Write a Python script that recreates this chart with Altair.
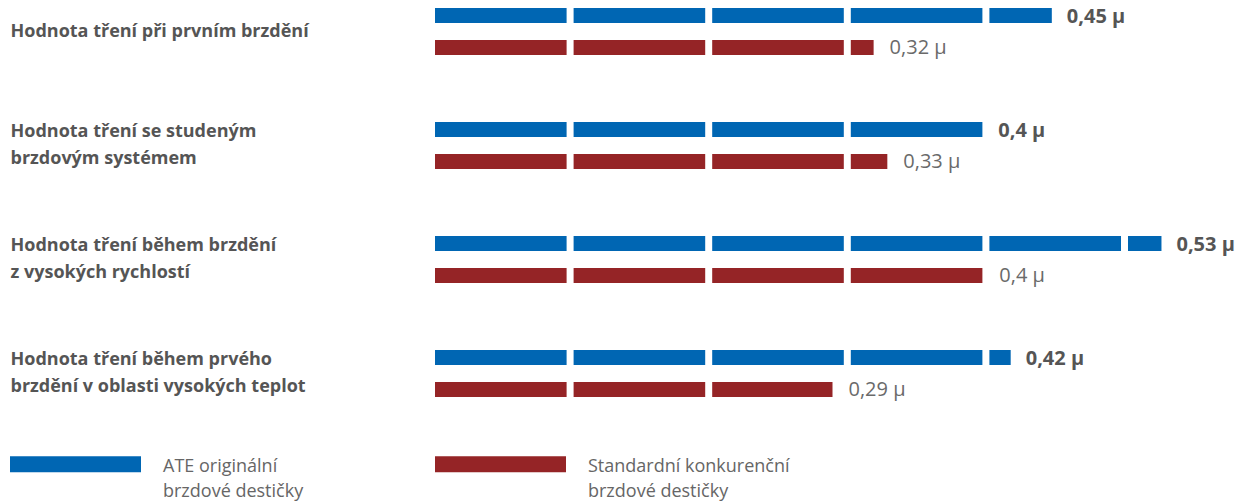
import altair as alt
import pandas as pd

categories = [
    "Hodnota tření při prvním brzdění",
    "Hodnota tření se studeným\nbrzdovým systémem",
    "Hodnota tření během brzdění\nz vysokých rychlostí",
    "Hodnota tření během prvého\nbrzdění v oblasti vysokých teplot",
]
series = ["ATE originální\nbrzdové destičky", "Standardní konkurenční\nbrzdové destičky"]
ate_values = [0.45, 0.40, 0.53, 0.42]
std_values = [0.32, 0.33, 0.40, 0.29]
colors = ["#0066b3", "#952426"]

rows = []
for c, a, s in zip(categories, ate_values, std_values):
    rows.append({"category": c, "series": series[0], "value": a, "start": 0.0, "primary": 1})
    rows.append({"category": c, "series": series[1], "value": s, "start": 0.0, "primary": 0})
df = pd.DataFrame(rows)

FONT = "Open Sans"

y_enc = alt.Y(
    "category:N",
    sort=categories,
    scale=alt.Scale(type="band", paddingInner=0.5877, paddingOuter=0),
    axis=alt.Axis(
        title=None, domain=False, ticks=False, tickSize=0, grid=False,
        labelAlign="left", labelPadding=425, labelBaseline="middle",
        labelExpr="split(datum.label, '\\n')",
        labelOffset={"condition": {"test": "indexof(datum.value, '\\n') >= 0", "value": -13.5}, "value": 0},
        labelFont=FONT, labelFontSize=18, labelFontWeight="bold",
        labelColor="#555555", labelLineHeight=27, labelLimit=420,
    ),
)
yoff_enc = alt.YOffset(
    "series:N", sort=series,
    scale=alt.Scale(type="band", paddingInner=0.531, paddingOuter=0),
)
x_scale = alt.Scale(domain=[0, 0.58], nice=False, zero=True)

base = alt.Chart(df)

bars = base.mark_rule(strokeWidth=15, strokeDash=[131.6, 7], strokeCap="butt").encode(
    x=alt.X("start:Q", scale=x_scale, axis=None),
    x2="value:Q",
    y=y_enc,
    yOffset=yoff_enc,
    color=alt.Color(
        "series:N", sort=series,
        scale=alt.Scale(domain=series, range=colors),
        legend=alt.Legend(
            orient="none", legendX=-433, legendY=390.5, direction="horizontal",
            columns=2, title=None, symbolType="M-1,-0.122H1", symbolSize=17161,
            symbolStrokeWidth=16, labelOffset=14, labelFont=FONT, labelFontSize=18,
            labelColor="#666666", labelLimit=300, labelBaseline="alphabetic",
            labelExpr="split(datum.label, '\\n')", columnPadding=99, padding=0,
        ),
    ),
)

label_base = base.transform_calculate(
    label="replace(format(datum.value, '.2~f'), '.', ',') + ' μ'"
)
text_enc = dict(
    x=alt.X("value:Q", scale=x_scale, axis=None),
    y=y_enc,
    yOffset=yoff_enc,
    text="label:N",
)
labels_primary = label_base.transform_filter("datum.primary == 1").mark_text(
    align="left", baseline="middle", dx=15, dy=1.5, fontSize=20, font=FONT,
    fontWeight="bold", color="#555555",
).encode(**text_enc)
labels_other = label_base.transform_filter("datum.primary == 0").mark_text(
    align="left", baseline="middle", dx=16, dy=1, fontSize=20, font=FONT,
    fontWeight="normal", color="#6a6a6a",
).encode(**text_enc)

chart = alt.layer(bars, labels_primary, labels_other).properties(
    width=795, height=389,
    padding={"left": 427, "top": 0, "right": 13, "bottom": 111},
    autosize=alt.AutoSizeParams(type="none"),
).configure(
    view=alt.ViewConfig(stroke=None),
    style={"guide-label": {"lineHeight": 25}},
)

chart.save("out.html", embed_options={"renderer": "svg", "actions": False})
